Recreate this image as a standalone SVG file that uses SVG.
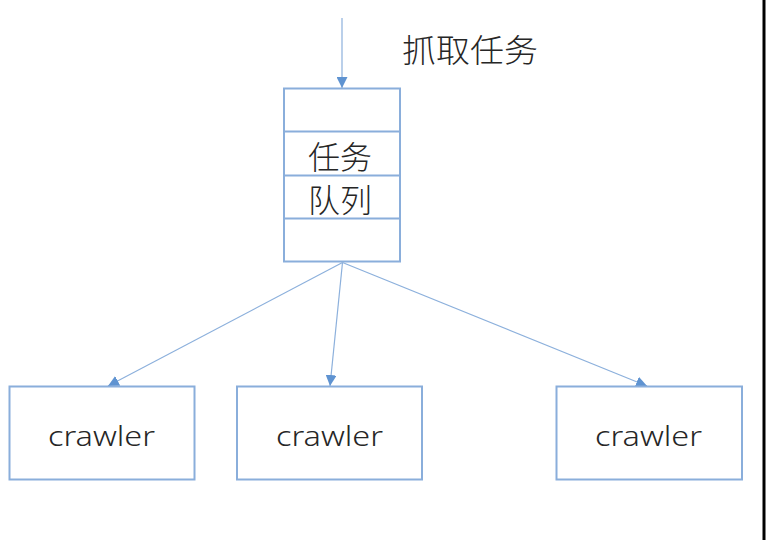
<svg xmlns="http://www.w3.org/2000/svg" width="768" height="540" viewBox="0 0 768 540">
<style>
.box{fill:#ffffff;stroke:#8aaedb;stroke-width:2}
.div{stroke:#8aaedb;stroke-width:2}
.edge{stroke:#8cb0dc;stroke-width:1.2;fill:none}
.cjk{font-family:"Noto Sans CJK SC","Microsoft YaHei",sans-serif;font-weight:300;fill:#262626}
.lbl{font-family:"Noto Sans","Liberation Sans",sans-serif;font-weight:300;font-size:28px;fill:#262626}
</style>
<defs>
<marker id="arr" viewBox="0 0 10 10" refX="10" refY="5" markerWidth="11" markerHeight="11" markerUnits="userSpaceOnUse" orient="auto">
<path d="M0,0 L10,5 L0,10 Z" fill="#5f93d1"/>
</marker>
</defs>
<rect width="768" height="540" fill="#ffffff"/>
<g id="connectors">
<line class="edge" x1="342" y1="18" x2="342" y2="88" marker-end="url(#arr)"/>
<line class="edge" x1="342.5" y1="262.5" x2="108" y2="386" marker-end="url(#arr)"/>
<line class="edge" x1="342.5" y1="262.5" x2="330" y2="386" marker-end="url(#arr)"/>
<line class="edge" x1="342.5" y1="262.5" x2="647" y2="386" marker-end="url(#arr)"/>
</g>
<g id="label-fetch">
<text class="cjk" x="402" y="62" font-size="32" textLength="136" lengthAdjust="spacingAndGlyphs">抓取任务</text>
</g>
<g id="queue">
<rect class="box" x="284" y="88.5" width="116" height="173"/>
<line class="div" x1="284" y1="131.5" x2="400" y2="131.5"/>
<line class="div" x1="284" y1="175.5" x2="400" y2="175.5"/>
<line class="div" x1="284" y1="218.5" x2="400" y2="218.5"/>
<text class="cjk" x="340" y="169" font-size="32" text-anchor="middle">任务</text>
<text class="cjk" x="340" y="212" font-size="32" text-anchor="middle">队列</text>
</g>
<g id="crawler1">
<rect class="box" x="9.5" y="386.5" width="185" height="93"/>
<text class="lbl" x="48" y="446" textLength="107" lengthAdjust="spacingAndGlyphs">crawler</text>
</g>
<g id="crawler2">
<rect class="box" x="237" y="386.5" width="185" height="93"/>
<text class="lbl" x="276" y="446" textLength="107" lengthAdjust="spacingAndGlyphs">crawler</text>
</g>
<g id="crawler3">
<rect class="box" x="556.5" y="386.5" width="185.5" height="93"/>
<text class="lbl" x="595" y="446" textLength="107" lengthAdjust="spacingAndGlyphs">crawler</text>
</g>
<rect x="762.5" y="0" width="3" height="540" fill="#000000"/>
</svg>
